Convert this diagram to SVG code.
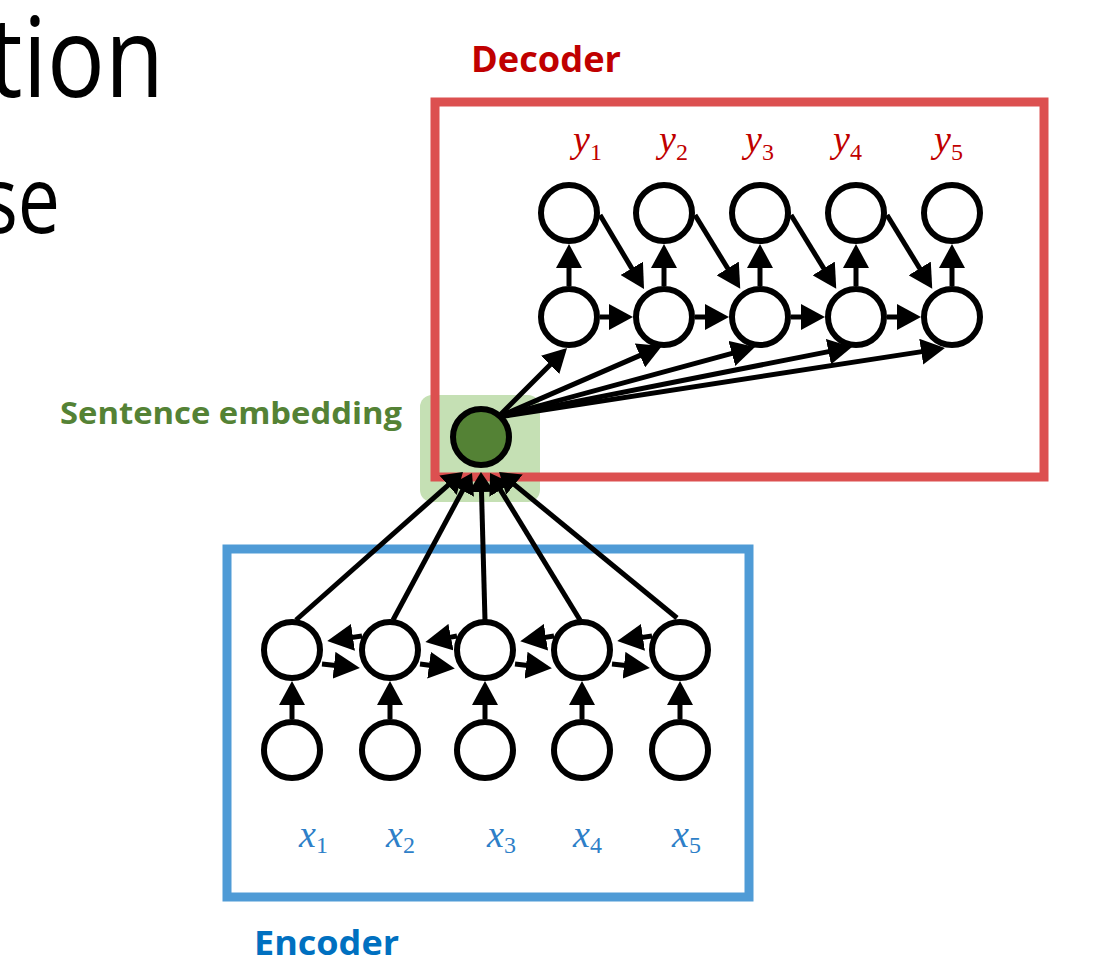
<svg xmlns="http://www.w3.org/2000/svg" width="1094" height="955" viewBox="0 0 1094 955">
  <defs>
    <style>
      .title { font-family: "Open Sans", "Noto Sans", sans-serif; fill: #000; }
      .head { font-family: "Open Sans", "Lato", sans-serif; font-weight: 700; }
      .var { font-family: "Liberation Serif", serif; font-style: italic; font-size: 38px; }
      .sub { font-style: normal; font-size: 24px; }
      .cell { fill: #fff; stroke: #000; stroke-width: 6; }
      .conn path { fill: none; stroke: #000; stroke-width: 5; }
      .big path { marker-end: url(#ah); }
      .mid path { marker-end: url(#am); }
      .small path { marker-end: url(#as); }
    </style>
    <!-- arrowheads: tip sits ahead of the line end so the stroke stays inside the head -->
    <marker id="ah" viewBox="0 0 24 26" refX="4" refY="13" markerWidth="24" markerHeight="26" orient="auto" markerUnits="userSpaceOnUse">
      <path d="M0,0 L24,13 L0,26 z" fill="#000"/>
    </marker>
    <marker id="am" viewBox="0 0 26 27" refX="4" refY="13.5" markerWidth="26" markerHeight="27" orient="auto" markerUnits="userSpaceOnUse">
      <path d="M0,0 L26,13.5 L0,27 z" fill="#000"/>
    </marker>
    <marker id="as" viewBox="0 0 20 26" refX="4" refY="13" markerWidth="20" markerHeight="26" orient="auto" markerUnits="userSpaceOnUse">
      <path d="M0,0 L20,13 L0,26 z" fill="#000"/>
    </marker>
  </defs>

  <rect width="1094" height="955" fill="#fff"/>

  <!-- slide title fragments -->
  <text class="title" transform="translate(164,97) scale(0.86,1)" font-size="112" text-anchor="end">tion</text>
  <text class="title" transform="translate(60,233) scale(0.8,1)" font-size="94" text-anchor="end">se</text>

  <!-- embedding highlight and the two frames -->
  <rect id="embedding-highlight" x="420" y="395" width="120" height="107" rx="12" fill="#c5e0b4"/>
  <g id="decoder-frame">
    <rect x="435" y="102" width="609" height="375" fill="none" stroke="#dc5050" stroke-width="9"/>
    <text class="head" x="471" y="72" font-size="35" fill="#c00000" textLength="150" lengthAdjust="spacingAndGlyphs">Decoder</text>
  </g>
  <g id="encoder-frame">
    <rect x="227" y="549" width="522" height="348" fill="none" stroke="#4f9bd6" stroke-width="9"/>
    <text class="head" x="254" y="955" font-size="34" fill="#0070c0" textLength="145" lengthAdjust="spacingAndGlyphs">Encoder</text>
  </g>
  <text id="embedding-label" class="head" x="60" y="424" font-size="30" fill="#548235" textLength="342" lengthAdjust="spacingAndGlyphs">Sentence embedding</text>

  <!-- connectors -->
  <g id="connectors" class="conn">
    <g class="big">
      <!-- decoder: hidden state up to output -->
      <path d="M569,286 L569,264"/>
      <path d="M664,286 L664,264"/>
      <path d="M760,286 L760,264"/>
      <path d="M856,286 L856,264"/>
      <path d="M952,286 L952,264"/>
      <!-- decoder: state to next state -->
      <path d="M600,317 L613,317"/>
      <path d="M695,317 L709,317"/>
      <path d="M791,317 L805,317"/>
      <path d="M887,317 L901,317"/>
      <!-- decoder: previous output fed to next state -->
      <path d="M600,215 L633.8,271.8"/>
      <path d="M695,215 L729.8,271.8"/>
      <path d="M791,215 L825.8,271.8"/>
      <path d="M887,215 L921.8,271.8"/>
      <!-- embedding fanned out to every decoder state -->
      <path d="M498,417 L552.9,362.1"/>
      <path d="M498,417 L643.6,353.9"/>
      <path d="M498,417 L735.7,352.3"/>
      <path d="M498,417 L832.4,350.9"/>
      <path d="M498,417 L925.2,351.1"/>
      <!-- encoder: input to hidden state -->
      <path d="M292,719 L292,701"/>
      <path d="M390,719 L390,701"/>
      <path d="M485,719 L485,701"/>
      <path d="M582,719 L582,701"/>
      <path d="M680,719 L680,701"/>
    </g>
    <g class="mid">
      <!-- encoder: backward and forward passes -->
      <path d="M362,636 L349,637.9"/>
      <path d="M322,664 L338,665.7"/>
      <path d="M457,636 L447,637.9"/>
      <path d="M420,664 L433,665.7"/>
      <path d="M554,636 L542,637.9"/>
      <path d="M515,664 L530,665.7"/>
      <path d="M652,636 L639,637.9"/>
      <path d="M612,664 L628,665.7"/>
    </g>
    <g class="small">
      <!-- encoder states pooled into the sentence embedding -->
      <path d="M296,620 L451,482.6"/>
      <path d="M393,620 L464.4,487.1"/>
      <path d="M485,620 L481.4,488"/>
      <path d="M580,620 L498.4,486.6"/>
      <path d="M677,618 L511.4,482.1"/>
    </g>
  </g>

  <!-- decoder nodes -->
  <g id="dec-out">
    <circle class="cell" cx="569" cy="213" r="28"/>
    <circle class="cell" cx="664" cy="213" r="28"/>
    <circle class="cell" cx="760" cy="213" r="28"/>
    <circle class="cell" cx="856" cy="213" r="28"/>
    <circle class="cell" cx="952" cy="213" r="28"/>
  </g>
  <g id="dec-state">
    <circle class="cell" cx="569" cy="317" r="28"/>
    <circle class="cell" cx="664" cy="317" r="28"/>
    <circle class="cell" cx="760" cy="317" r="28"/>
    <circle class="cell" cx="856" cy="317" r="28"/>
    <circle class="cell" cx="952" cy="317" r="28"/>
  </g>
  <g id="dec-labels" class="var" fill="#c00000">
    <text x="573" y="152">y<tspan class="sub" dy="8">1</tspan></text>
    <text x="659" y="152">y<tspan class="sub" dy="8">2</tspan></text>
    <text x="745" y="152">y<tspan class="sub" dy="8">3</tspan></text>
    <text x="833" y="152">y<tspan class="sub" dy="8">4</tspan></text>
    <text x="934" y="152">y<tspan class="sub" dy="8">5</tspan></text>
  </g>

  <!-- sentence embedding node -->
  <g id="embedding">
    <circle cx="481" cy="437" r="28" fill="#548235" stroke="#000" stroke-width="6"/>
  </g>

  <!-- encoder nodes -->
  <g id="enc-state">
    <circle class="cell" cx="292" cy="650" r="28"/>
    <circle class="cell" cx="390" cy="650" r="28"/>
    <circle class="cell" cx="485" cy="650" r="28"/>
    <circle class="cell" cx="582" cy="650" r="28"/>
    <circle class="cell" cx="680" cy="650" r="28"/>
  </g>
  <g id="enc-in">
    <circle class="cell" cx="292" cy="750" r="28"/>
    <circle class="cell" cx="390" cy="750" r="28"/>
    <circle class="cell" cx="485" cy="750" r="28"/>
    <circle class="cell" cx="582" cy="750" r="28"/>
    <circle class="cell" cx="680" cy="750" r="28"/>
  </g>
  <g id="enc-labels" class="var" fill="#2e7fc8">
    <text x="299" y="847">x<tspan class="sub" dy="6">1</tspan></text>
    <text x="386" y="847">x<tspan class="sub" dy="6">2</tspan></text>
    <text x="487" y="847">x<tspan class="sub" dy="6">3</tspan></text>
    <text x="573" y="847">x<tspan class="sub" dy="6">4</tspan></text>
    <text x="672" y="847">x<tspan class="sub" dy="6">5</tspan></text>
  </g>
</svg>
